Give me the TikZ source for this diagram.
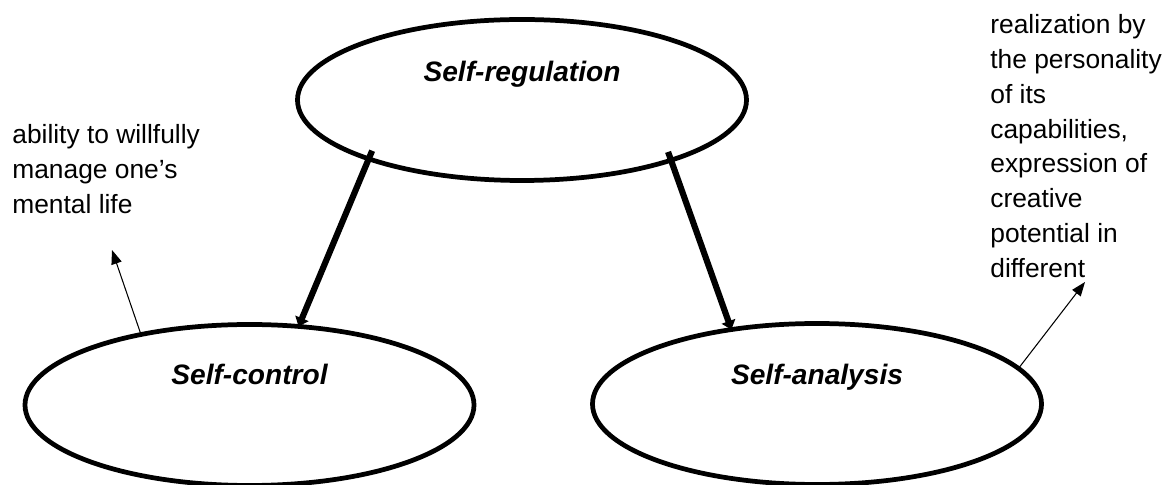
\documentclass[tikz,border=0pt]{standalone}
\usepackage{fontspec}
\setmainfont{Liberation Sans}
\usetikzlibrary{shapes.geometric,arrows.meta}

\begin{document}
\begin{tikzpicture}[
    oval/.style={ellipse, draw, line width=2.7pt, minimum width=8.98cm, minimum height=3.22cm, inner sep=0pt, outer sep=0pt},
    title/.style={anchor=base, font=\fontsize{16}{19}\selectfont\bfseries\itshape},
    note/.style={anchor=north west, align=left, inner sep=0pt, font=\fontsize{15}{19.85}\selectfont},
    bigarrow/.style={line width=3.5pt, shorten <=-5pt, -{Triangle[length=5pt,width=8pt]}},
    thinarrow/.style={line width=0.6pt, -{Triangle[length=8pt,width=6pt]}}]
  \useasboundingbox (0,0) rectangle (23.38,9.70);
  % the three ovals
  \node[oval] (reg) at (10.44,7.70) {};
  \node[oval] (ctrl) at (4.99,1.60) {};
  \node[oval] (ana) at (16.34,1.62) {};
  \node[title] (regtxt) at ([yshift=0.36cm]reg.center) {Self-regulation};
  \node[title] (ctrltxt) at ([yshift=0.40cm]ctrl.center) {Self-control};
  \node[title] (anatxt) at ([yshift=0.38cm]ana.center) {Self-analysis};
  % side notes
  \node[note] (ability) at (0.24,7.22) {ability to willfully\\manage one’s\\mental life};
  \node[note] (realize) at (19.80,9.42) {realization by\\the personality\\of its\\capabilities,\\expression of\\creative\\potential in\\different};
  \coordinate (abtip) at (2.24,4.70);
  \coordinate (retip) at (21.70,4.06);
  % arrows
  \draw[bigarrow] (reg.201) -- (ctrl.58);
  \draw[bigarrow] (reg.338) -- (ana.139);
  \draw[thinarrow] (ctrl.147) -- (abtip);
  \draw[thinarrow] (ana.10) -- (retip);
\end{tikzpicture}
\end{document}
